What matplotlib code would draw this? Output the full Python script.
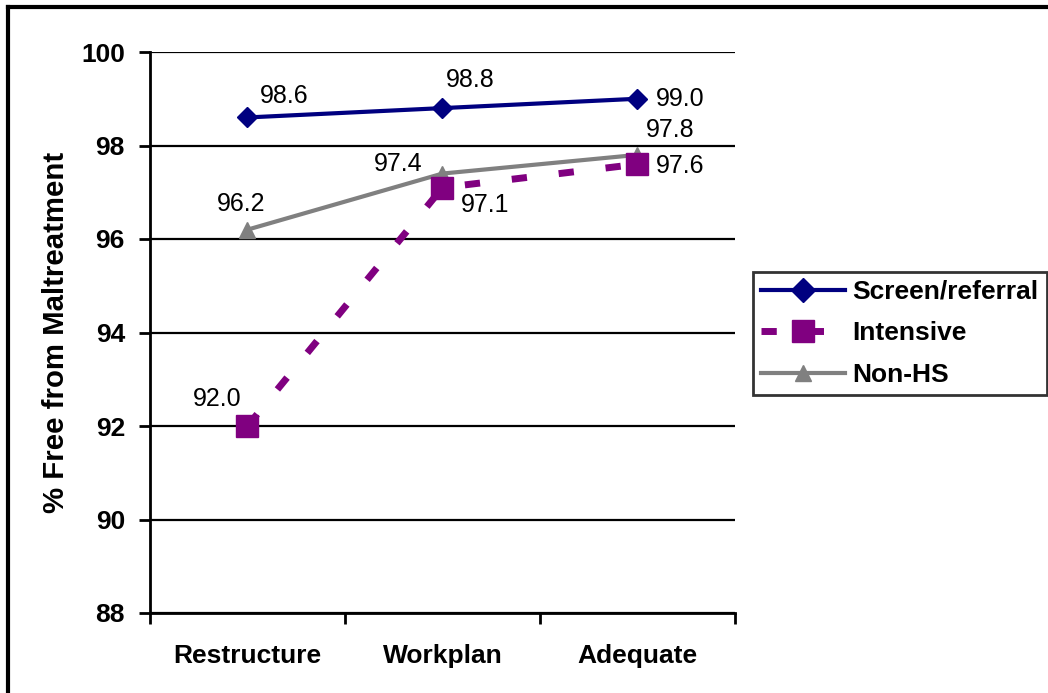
import matplotlib
matplotlib.use("Agg")
import matplotlib.pyplot as plt
from matplotlib.lines import Line2D

plt.rcParams['font.family'] = ['Liberation Sans', 'DejaVu Sans']

categories = ["Restructure", "Workplan", "Adequate"]
series_names = ["Screen/referral", "Intensive", "Non-HS"]
screen = [98.6, 98.8, 99.0]
intensive = [92.0, 97.1, 97.6]
nonhs = [96.2, 97.4, 97.8]
yticks = [88, 90, 92, 94, 96, 98, 100]

NAVY = '#000080'
PURPLE = '#800080'
GRAY = '#808080'
DASH = (0, (2.2, 4.6))

fig = plt.figure(figsize=(10.48, 6.93), dpi=100)
ax = fig.add_axes([150/1048, 1-613/693, (735-150)/1048, (613-52)/693])

x = list(range(len(categories)))
ax.plot(x, nonhs, color=GRAY, lw=3, marker='^', ms=11, label=series_names[2], zorder=3)
ax.plot(x, intensive, color=PURPLE, lw=5, ls=DASH, marker='s', ms=16.5, label=series_names[1], zorder=4)
ax.plot(x, screen, color=NAVY, lw=3, marker='D', ms=10.5, label=series_names[0], zorder=5)

offsets = {
    0: [(37, 21), (28, 28), (43, 0)],
    1: [(-30, 27), (43, -17), (43, -2)],
    2: [(-6, 26), (-44, 10), (33, 25)],
}
data = [screen, intensive, nonhs]
for si, vals in enumerate(data):
    for i, v in enumerate(vals):
        dx, dy = offsets[si][i]
        ax.annotate(f"{v:.1f}", (i, v), xytext=(dx, dy), textcoords='offset pixels',
                    ha='center', va='center', fontsize=18, zorder=6)

ax.set_xlim(-0.5, 2.5)
ax.set_ylim(88, 100)
ax.set_yticks(yticks)
ax.set_xticks([-0.5, 0.5, 1.5, 2.5])
ax.set_xticklabels([])
ax.set_xticks(x, minor=True)
ax.set_xticklabels(categories, minor=True, fontsize=19, fontweight='bold')
ax.tick_params(axis='x', which='minor', length=0, pad=22)
ax.tick_params(axis='x', which='major', length=8, width=2, direction='out')
ax.tick_params(axis='y', length=8, width=2, direction='out', labelsize=19, pad=10)
for lab in ax.get_yticklabels():
    lab.set_fontweight('bold')
ax.grid(axis='y', color='black', lw=1.6)
ax.set_axisbelow(True)
for s in ['top', 'right']:
    ax.spines[s].set_visible(False)
for s in ['left', 'bottom']:
    ax.spines[s].set_linewidth(2)
ax.set_ylabel("% Free from Maltreatment", fontsize=21.2, fontweight='bold')
ax.yaxis.set_label_coords((70-150)/585, 0.5)

handles = [
    Line2D([], [], color=NAVY, lw=3, marker='D', ms=12),
    Line2D([], [], color=PURPLE, lw=5, ls=DASH, marker='s', ms=16.5),
    Line2D([], [], color=GRAY, lw=3, marker='^', ms=12),
]
leg = fig.legend(handles, series_names, loc='upper left', bbox_to_anchor=(753/1048, 1-272/693),
                 frameon=True, fancybox=False, edgecolor='black', handlelength=3.2,
                 prop={'weight': 'bold', 'size': 19}, borderpad=0.3, labelspacing=0.66,
                 handletextpad=0.27, borderaxespad=0)
leg.get_frame().set_linewidth(2)

fig.add_artist(Line2D([8/1048, 8/1048], [0, 1-7/693], color='black', lw=3, transform=fig.transFigure))
fig.add_artist(Line2D([8/1048, 1], [1-7/693, 1-7/693], color='black', lw=3, transform=fig.transFigure))

fig.savefig("out.png", dpi=100)
